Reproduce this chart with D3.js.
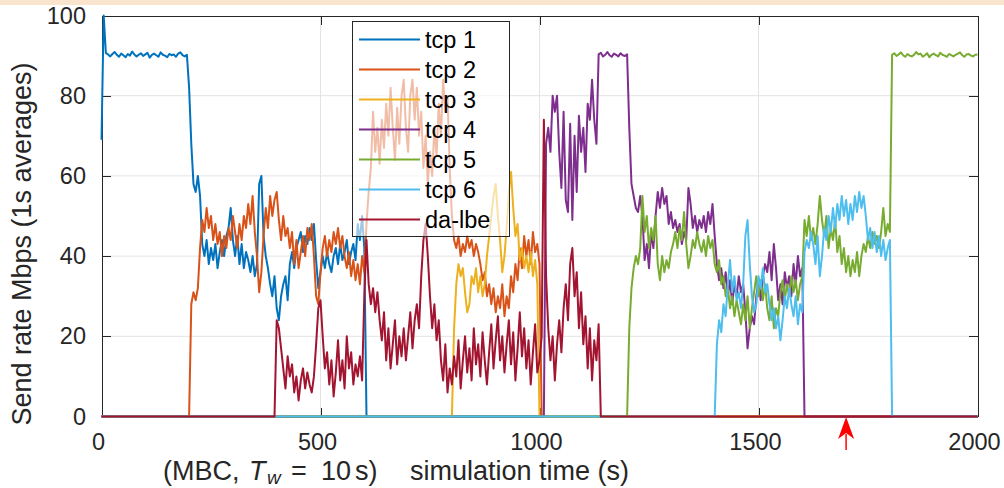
<!DOCTYPE html>
<html>
<head>
<meta charset="utf-8">
<script src="https://cdn.jsdelivr.net/npm/d3@7"></script>
<style>
  body { margin: 0; background: #fff; }
  text { font-family: "Liberation Sans", Arial, Helvetica, sans-serif; }
</style>
</head>
<body>
<div id="chart"></div>
<script>
// samples every 5 s, each series starts at its own time
const step = 5;
const seriesNames = ["tcp 1", "tcp 2", "tcp 3", "tcp 4", "tcp 5", "tcp 6", "da-lbe"];
const seriesColors = ["#0072BD", "#D95319", "#EDB120", "#7E2F8E", "#77AC30", "#4DBEEE", "#A2142F"];
const seriesStart = [0, 200, 800, 1010, 1200, 1400, 395];

const tcp1Vals = [
  69, 100, 90.6, 90.3, 89.8, 90.4, 90.9, 90.2, 89.7, 90.5,
  90.1, 89.6, 90.4, 90.0, 91.0, 90.3, 89.8, 90.2, 90.6, 89.9,
  90.3, 90.7, 89.5, 90.2, 90.5, 90.1, 89.7, 90.8, 90.2, 90.0,
  89.6, 90.4, 90.1, 90.3, 89.7, 90.5, 90.8, 90.1, 89.8, 90.2,
  82, 68, 58, 56, 60, 55, 43, 40, 44, 38,
  42, 39, 43, 37, 41, 44, 40, 45, 47, 52,
  44, 40, 45, 38, 43, 37, 41, 39, 36, 40,
  35, 38, 58, 60, 45, 40, 37, 33, 30, 35,
  27, 24, 30, 33, 35, 29, 38, 41, 37, 42,
  44, 46, 41, 45, 43, 47, 44, 48, 39, 32,
  36, 40, 37, 41, 38, 36, 40, 42, 38, 43,
  39, 41, 44, 38, 41, 43, 39, 48, 44, 50,
  42, 0
];
const tcp2Vals = [
  0, 28, 31, 29, 32, 42, 49, 46, 52, 47,
  50, 44, 48, 43, 46, 40, 45, 42, 47, 44,
  50, 46, 42, 48, 44, 50, 47, 53, 48, 55,
  46, 40, 31, 36, 45, 52, 47, 55, 50, 54,
  56, 49, 44, 50, 45, 47, 42, 46, 38, 44,
  37, 41, 45, 40, 47, 44, 48, 40, 30, 28,
  36, 42, 45, 40, 44, 41, 46, 43, 47, 42,
  45, 40, 37, 41, 35, 39, 34, 38, 33, 40,
  36, 48, 56, 62, 76, 66, 72, 63, 74, 67,
  78, 70, 82, 72, 64, 77, 68, 80, 84, 72,
  66, 80, 84, 74, 82, 70, 76, 62, 70, 58,
  66, 60, 72, 65, 78, 70, 84, 76, 80, 62,
  50, 44, 42, 45, 40, 43, 41, 45, 42, 44,
  40, 43, 41, 38, 34, 36, 30, 33, 28, 32,
  26, 30, 27, 33, 25, 30, 27, 35, 31, 38,
  34, 42, 37, 45, 40, 44, 38, 46, 41, 43,
  38, 0
];
const tcp3Vals = [
  0, 22, 33, 38, 35, 37, 31, 26, 28, 35,
  33, 37, 31, 35, 30, 33, 40, 45, 50, 55,
  58, 50, 44, 36, 40, 47, 56, 61, 52, 45,
  48, 39, 42, 37, 40, 36, 41, 35, 39, 33,
  0
];
const tcp4Vals = [
  0, 68, 72, 66, 80, 76, 80, 66, 57, 76,
  54, 51, 73, 49, 70, 56, 75, 66, 72, 61,
  78, 74, 84, 74, 68, 90.3, 90.7, 89.8, 90.2, 90.9,
  90.1, 89.7, 90.5, 90.2, 89.8, 90.6, 90.1, 89.9, 90.3, 72,
  58, 55, 52, 51, 55, 50, 39, 43, 37, 46,
  42, 50, 56, 52, 57, 53, 55, 48, 51, 47,
  49, 46, 48, 43, 46, 44, 57, 53, 47, 50,
  46, 49, 47, 50, 46, 51, 48, 53, 45, 38,
  34, 37, 32, 36, 30, 34, 28, 33, 30, 35,
  31, 33, 26, 17, 22, 25, 23, 30, 34, 29,
  35, 38, 36, 41, 34, 43, 37, 29, 33, 28,
  36, 32, 35, 30, 38, 33, 40, 35, 37, 0
];
const tcp5Vals = [
  0, 22, 32, 37, 40, 38, 42, 55, 46, 50,
  42, 47, 44, 50, 38, 34, 40, 36, 39, 37,
  41, 43, 46, 42, 47, 44, 51, 43, 37, 40,
  44, 42, 46, 43, 41, 44, 40, 45, 42, 44,
  38, 36, 39, 33, 35, 30, 32, 27, 30, 25,
  29, 26, 23, 28, 24, 30, 22, 27, 31, 35,
  30, 34, 29, 33, 27, 24, 30, 22, 27, 25,
  31, 34, 29, 33, 30, 35, 31, 34, 29, 33,
  35, 49, 45, 50, 44, 47, 43, 48, 55, 49,
  45, 50, 42, 47, 44, 49, 41, 45, 38, 42,
  36, 40, 35, 39, 36, 41, 35, 40, 43, 41,
  45, 42, 46, 43, 45, 42, 46, 52, 45, 48,
  46, 90.2, 90.6, 89.9, 90.3, 90.8, 90.1, 89.7, 90.4, 90.0,
  89.8, 90.2, 90.9, 90.3, 90.5, 89.7, 90.1, 90.6, 89.6, 90.2,
  90.5, 90.1, 89.8, 90.7, 90.2, 90.0, 89.7, 90.4, 90.1, 89.8,
  90.2, 90.5, 90.8, 90.1, 89.7, 90.3, 90.4, 90.0, 89.8, 90.2,
  90.3
];
const tcp6Vals = [
  0, 18, 24, 21, 28, 25, 33, 39, 31, 35,
  29, 31, 27, 33, 45, 49, 38, 30, 26, 28,
  35, 32, 37, 31, 33, 28, 24, 27, 22, 25,
  19, 24, 30, 27, 32, 28, 25, 30, 23, 28,
  26, 41, 44, 42, 46, 43, 38, 45, 35, 40,
  47, 44, 50, 46, 52, 47, 53, 49, 55, 50,
  54, 48, 53, 49, 55, 51, 56, 52, 55, 50,
  44, 47, 42, 46, 41, 45, 40, 44, 39, 42,
  44, 0
];
const lbeVals = [
  0,
  24, 22, 17, 12, 7, 15, 10, 13, 6, 10,
  4, 9, 12, 7, 11, 8, 6, 10, 18, 27,
  29, 20, 12, 16, 8, 14, 5, 11, 19, 9,
  14, 7, 20, 12, 16, 8, 13, 10, 15, 9,
  30, 44, 33, 28, 32, 26, 31, 24, 19, 26,
  14, 22, 12, 18, 24, 13, 20, 15, 22, 14,
  20, 26, 17, 24, 28, 22, 35, 44, 48, 40,
  30, 22, 28, 19, 24, 14, 9, 18, 6, 12,
  8, 15, 10, 19, 7, 14, 20, 11, 17, 9,
  22, 13, 18, 10, 21, 14, 8, 16, 23, 12,
  19, 25, 14, 20, 11, 18, 24, 13, 21, 9,
  17, 26, 15, 22, 12, 19, 8, 16, 23, 11,
  14, 20, 74, 35, 22, 14, 20, 9, 18, 24,
  16, 27, 33, 24, 38, 42, 30, 36, 22, 31,
  18, 25, 12, 22, 9, 19, 14, 23, 0
];
const seriesVals = [tcp1Vals, tcp2Vals, tcp3Vals, tcp4Vals, tcp5Vals, tcp6Vals, lbeVals];

const xTicks = [0, 500, 1000, 1500, 2000];
const yTicks = [0, 20, 40, 60, 80, 100];
const arrowTime = 1700;

const W = 1004, H = 488;
const x = d3.scaleLinear().domain([0, 2000]).range([101.5, 977.5]);
const y = d3.scaleLinear().domain([0, 100]).range([416.5, 15.5]);
const tick = 9;

const svg = d3.select("#chart").append("svg")
  .attr("width", W).attr("height", H);

// peach strip at the very top
svg.append("rect").attr("x", 0).attr("y", 0).attr("width", W).attr("height", 5)
  .attr("fill", "#fbe4cd");

// grid
const grid = svg.append("g").attr("stroke", "#e3e3e3").attr("stroke-width", 1);
grid.selectAll(".gx").data(xTicks.slice(1, -1)).enter().append("line")
  .attr("x1", d => x(d)).attr("x2", d => x(d)).attr("y1", y(0)).attr("y2", y(100));
grid.selectAll(".gy").data(yTicks.slice(1, -1)).enter().append("line")
  .attr("x1", x(0)).attr("x2", x(2000)).attr("y1", d => y(d)).attr("y2", d => y(d));

// axes with inward ticks
function styleAxis(g) {
  g.select(".domain").attr("stroke", "#262626");
  g.selectAll(".tick line").attr("stroke", "#262626");
  g.selectAll("text").attr("fill", "#262626").style("font-size", "23.5px")
    .style("font-family", '"Liberation Sans", Arial, sans-serif');
}
const fmt = d3.format("d");
svg.append("g").attr("transform", "translate(0," + y(0) + ")")
  .call(d3.axisBottom(x).tickValues(xTicks).tickFormat(fmt)
    .tickSizeInner(-tick).tickSizeOuter(0).tickPadding(17))
  .call(styleAxis)
  .selectAll("text").attr("dx", -3.5);
svg.append("g").attr("transform", "translate(0," + y(100) + ")")
  .call(d3.axisTop(x).tickValues(xTicks).tickSizeInner(-tick).tickSizeOuter(0).tickFormat(""))
  .call(styleAxis);
svg.append("g").attr("transform", "translate(" + x(0) + ",0)")
  .call(d3.axisLeft(y).tickValues(yTicks).tickFormat(fmt)
    .tickSizeInner(-tick).tickSizeOuter(0).tickPadding(15.5))
  .call(styleAxis);
svg.append("g").attr("transform", "translate(" + x(2000) + ",0)")
  .call(d3.axisRight(y).tickValues(yTicks).tickSizeInner(-tick).tickSizeOuter(0).tickFormat(""))
  .call(styleAxis);
svg.selectAll(".domain, .tick line").attr("shape-rendering", "crispEdges");

// build the series points
const series = seriesVals.map((vals, i) => {
  const pts = [];
  const t0 = seriesStart[i];
  if (t0 > 0) pts.push([0, 0]);
  vals.forEach((v, k) => pts.push([t0 + k * step, v]));
  if (t0 + (vals.length - 1) * step < 2000) pts.push([2000, 0]);
  return { name: seriesNames[i], color: seriesColors[i], pts: pts };
});

const line = d3.line().x(d => x(d[0])).y(d => y(d[1]));
svg.append("g").selectAll("path").data(series).enter().append("path")
  .attr("d", d => line(d.pts))
  .attr("fill", "none")
  .attr("stroke", d => d.color)
  .attr("stroke-width", 2)
  .attr("stroke-linejoin", "round");

// legend (semi transparent background like the figure)
const leg = svg.append("g");
leg.append("rect").attr("x", 352.5).attr("y", 21.5).attr("width", 157).attr("height", 215)
  .attr("fill", "#fff").attr("fill-opacity", 0.62)
  .attr("stroke", "#262626").attr("stroke-width", 1);
series.forEach((s, i) => {
  const yy = 39.5 + i * 30;
  leg.append("line").attr("x1", 359).attr("x2", 420).attr("y1", yy).attr("y2", yy)
    .attr("stroke", s.color).attr("stroke-width", 2);
  leg.append("text").attr("x", 425).attr("y", yy + 8)
    .style("font-size", "23.5px").attr("fill", "#000").text(s.name);
});

// axis labels
svg.append("text")
  .attr("transform", "translate(31,244) rotate(-90)")
  .style("text-anchor", "middle").style("font-size", "27px").attr("fill", "#262626")
  .text("Send rate Mbps (1s averages)");
svg.append("text").attr("x", 410).attr("y", 479.5)
  .style("font-size", "27px").attr("fill", "#262626")
  .text("simulation time (s)");

const note = svg.append("text").attr("y", 479.5).style("font-size", "27px").attr("fill", "#262626");
note.append("tspan").attr("x", 163).text("(MBC,");
note.append("tspan").attr("x", 249).style("font-style", "italic").text("T");
note.append("tspan").attr("x", 267).attr("y", 484).style("font-style", "italic")
  .style("font-size", "19px").text("w");
note.append("tspan").attr("x", 291).attr("y", 479.5).text("=");
note.append("tspan").attr("x", 321).text("10");
note.append("tspan").attr("x", 355).text("s)");

// red arrow under the x axis
const ax = x(arrowTime);
svg.append("line").attr("x1", ax).attr("x2", ax).attr("y1", 434).attr("y2", 450)
  .attr("stroke", "#ff0000").attr("stroke-width", 1.5);
svg.append("path")
  .attr("d", "M" + ax + ",417 L" + (ax + 8) + ",439 L" + ax + ",433 L" + (ax - 8) + ",439 Z")
  .attr("fill", "#ff0000");
</script>
</body>
</html>
